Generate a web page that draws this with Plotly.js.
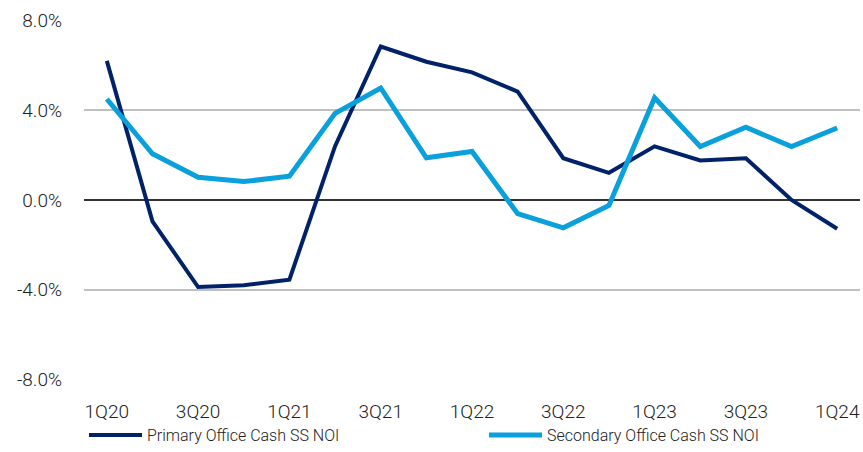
<!DOCTYPE html>
<html>
<head>
<meta charset="utf-8">
<script src="https://cdn.plot.ly/plotly-3.0.1.min.js"></script>
<style>
  html, body { margin: 0; padding: 0; background: #fff; }
  #chart { width: 863px; height: 452px; }
</style>
</head>
<body>
<div id="chart"></div>
<script>
// Quarterly same-store cash NOI growth, %
const quarters = ["1Q20","2Q20","3Q20","4Q20","1Q21","2Q21","3Q21","4Q21",
                  "1Q22","2Q22","3Q22","4Q22","1Q23","2Q23","3Q23","4Q23","1Q24"];
const tickLabels = ["1Q20","3Q20","1Q21","3Q21","1Q22","3Q22","1Q23","3Q23","1Q24"];
const primaryNOI = [6.2, -0.95, -3.88, -3.8, -3.55, 2.4, 6.84, 6.16,
                    5.69, 4.83, 1.86, 1.21, 2.39, 1.76, 1.86, 0.0, -1.28];
const secondaryNOI = [4.5, 2.06, 1.01, 0.82, 1.06, 3.86, 4.99, 1.88,
                      2.16, -0.61, -1.24, -0.24, 4.55, 2.38, 3.24, 2.38, 3.21];
const yTicks = [-8, -4, 0, 4, 8];

const font = "Roboto, 'Liberation Sans', Arial, sans-serif";
const legendFont = { family: font, size: 16, color: "#222", weight: 300 };

const traces = [
  {
    x: quarters, y: primaryNOI, type: "scatter", mode: "lines",
    name: "Primary Office Cash SS NOI",
    line: { color: "#012169", width: 4 },
    legend: "legend"
  },
  {
    x: quarters, y: secondaryNOI, type: "scatter", mode: "lines",
    name: "Secondary Office Cash SS NOI",
    line: { color: "#0aa0dc", width: 5 },
    legend: "legend2"
  }
];

const legendBase = {
  orientation: "h", xanchor: "left", yanchor: "bottom",
  yref: "container", y: 0, itemwidth: 53,
  bgcolor: "rgba(0,0,0,0)", font: legendFont
};

const layout = {
  width: 863, height: 452,
  margin: { l: 84, r: 3, t: 20, b: 72, autoexpand: false },
  paper_bgcolor: "#fff", plot_bgcolor: "#fff",
  font: { family: font, color: "#222", size: 19, weight: 300 },
  showlegend: true,
  legend: Object.assign({}, legendBase, { x: 0.0 }),
  legend2: Object.assign({}, legendBase, { x: 0.5155 }),
  xaxis: {
    type: "category",
    range: [-0.5, 16.5],
    tickmode: "array", tickvals: tickLabels, ticktext: tickLabels,
    showgrid: false, zeroline: false, showline: false,
    ticks: "", ticklen: 0, ticklabelstandoff: 18, automargin: false,
    tickfont: { family: font, size: 19, color: "#222", weight: 300 }
  },
  yaxis: {
    range: [-8.02, 8.02],
    tickmode: "array", tickvals: yTicks,
    ticktext: yTicks.map(v => v.toFixed(1) + "%"),
    showgrid: true, gridcolor: "#c0c0c0", gridwidth: 2,
    zeroline: true, zerolinecolor: "#333", zerolinewidth: 2,
    showline: false, ticks: "", ticklabelstandoff: 21, automargin: false,
    tickfont: { family: font, size: 19, color: "#222", weight: 300 }
  }
};

Plotly.newPlot("chart", traces, layout, { displayModeBar: false, staticPlot: true });
</script>
</body>
</html>
